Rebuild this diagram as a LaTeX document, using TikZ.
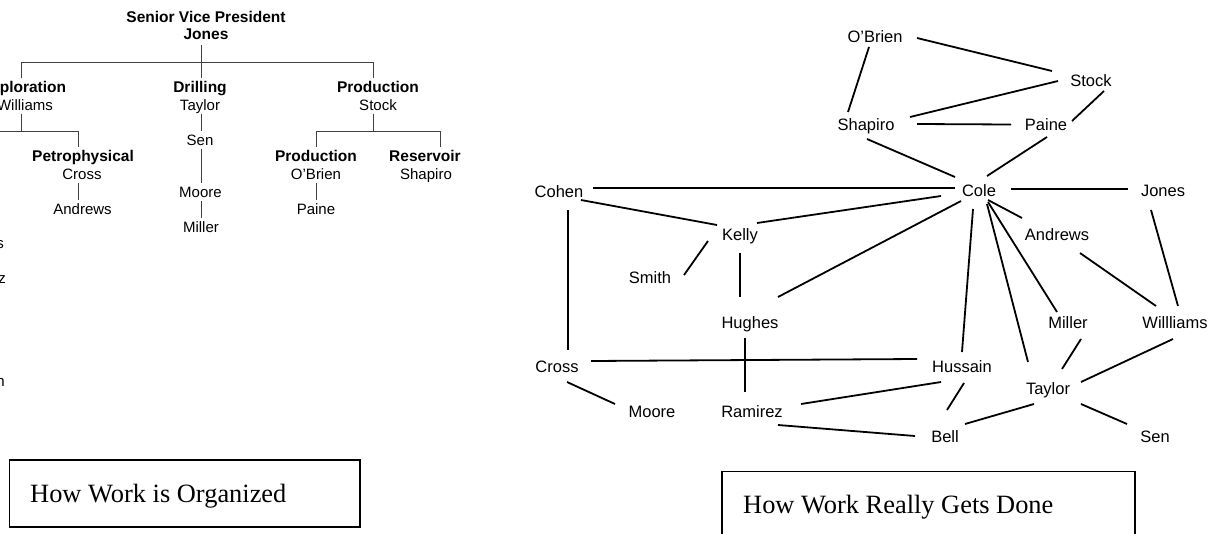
\documentclass[tikz,border=0pt]{standalone}
\usepackage{fontspec}
\setmainfont{Liberation Serif}
\newfontfamily\arialf{Liberation Sans}
\usetikzlibrary{calc}
\begin{document}
\begin{tikzpicture}[x=1pt,y=-1pt,
  org/.style={font=\arialf\fontsize{15}{18}\selectfont, text height=11pt, text depth=0pt, inner sep=3pt},
  orgb/.style={org, font=\arialf\bfseries\fontsize{15.5}{18}\selectfont},
  orgline/.style={black!75, line width=0.9pt},
  person/.style={font=\arialf\fontsize{16.5}{20}\selectfont, text height=12pt, text depth=0pt, inner sep=0pt},
  link/.style={line width=1.8pt, black},
  caption/.style={font=\fontsize{26.4}{30}\selectfont, anchor=base west, inner sep=0pt},
  capbox/.style={line width=1.8pt}]
\useasboundingbox (0,0) rectangle (1212,533);
\clip (0,0) rectangle (1212,533);

% ---------------- org chart ----------------
\node[orgb] (svp) at (206,17) {Senior Vice President};
\node[orgb] (svpname) at (206,34) {Jones};
\node[orgb] (expl) at (23.5,87) {Exploration};
\node[org] (owil) at (25,105) {Williams};
\node[orgb] (drill) at (200,87) {Drilling};
\node[org] (otay) at (200,105) {Taylor};
\node[org] (osen) at (200,140) {Sen};
\node[org] (omoore) at (200.5,192) {Moore};
\node[org] (omiller) at (201,226.5) {Miller};
\node[orgb] (prod) at (378,87) {Production};
\node[org] (ostock) at (378,105) {Stock};
\node[orgb] (petro) at (83,156) {Petrophysical};
\node[org] (ocross) at (82,174) {Cross};
\node[org] (oandrews) at (82.5,209) {Andrews};
\node[orgb] (prod2) at (316,156) {Production};
\node[org] (oobrien) at (316,174) {O’Brien};
\node[org] (opaine) at (316,209) {Paine};
\node[orgb] (res) at (425,156) {Reservoir};
\node[org] (oshapiro) at (426,174) {Shapiro};
\node[org, anchor=east] (ohughes) at (7,242.5) {Hughes};
\node[org, anchor=east] (oramirez) at (9,277.5) {Ramirez};
\node[org, anchor=east] (ohussain) at (8,381) {Hussain};

\coordinate (jbar) at (201,62);
\coordinate (ebar) at (21,62);
\coordinate (pbar) at (373,62);
\draw[orgline] ([yshift=-2pt]svpname.south -| jbar) -- (drill.north -| jbar);
\draw[orgline] (expl.north -| ebar) -- (ebar) -- (pbar) -- (prod.north -| pbar);
\coordinate (wbar) at (21,131);
\coordinate (wleft) at (-40,131);
\coordinate (wright) at (78,131);
\draw[orgline] (owil.south -| wbar) -- (wbar);
\draw[orgline] (wleft) -- (wright) -- (petro.north -| wright);
\draw[orgline] (ocross.south -| wright) -- (oandrews.north -| wright);
\draw[orgline] (otay.south -| jbar) -- (osen.north -| jbar);
\draw[orgline] (osen.south -| jbar) -- (omoore.north -| jbar);
\draw[orgline] (omoore.south -| jbar) -- (omiller.north -| jbar);
\coordinate (sbar) at (373,131);
\coordinate (sleft) at (316,131);
\coordinate (sright) at (440,131);
\draw[orgline] (ostock.south -| sbar) -- (sbar);
\draw[orgline] (prod2.north -| sleft) -- (sleft) -- (sright) -- (res.north -| sright);
\draw[orgline] (oobrien.south -| sleft) -- (opaine.north -| sleft);

% ---------------- network ----------------
\node[person] (obrien) at (875,36) {O’Brien};
\node[person] (stock) at (1091,80) {Stock};
\node[person] (shapiro) at (866,124) {Shapiro};
\node[person] (paine) at (1046,124.5) {Paine};
\node[person] (cole) at (979,190.5) {Cole};
\node[person] (jones) at (1163,190.5) {Jones};
\node[person] (cohen) at (559,191) {Cohen};
\node[person] (kelly) at (740,234) {Kelly};
\node[person] (andrews) at (1057,234.5) {Andrews};
\node[person] (smith) at (650,277.5) {Smith};
\node[person] (hughes) at (750,322) {Hughes};
\node[person] (miller) at (1068,322) {Miller};
\node[person] (williams) at (1175,322) {Willliams};
\node[person] (cross) at (557,366.7) {Cross};
\node[person] (hussain) at (962,366.7) {Hussain};
\node[person] (taylor) at (1048,388) {Taylor};
\node[person] (moore) at (652,411.3) {Moore};
\node[person] (ramirez) at (752,411.3) {Ramirez};
\node[person] (bell) at (945,436.7) {Bell};
\node[person] (sen) at (1155,436.7) {Sen};

\draw[link] ($(obrien)+(42,2)$) -- ($(stock)+(-39,-9)$);
\draw[link] ($(obrien)+(-6,11)$) -- ($(shapiro)+(-18,-12)$);
\draw[link] ($(stock)+(-33,1)$) -- ($(shapiro)+(44,-7)$);
\draw[link] ($(stock)+(13,11)$) -- ($(paine)+(26,-3.5)$);
\draw[link] ($(shapiro)+(51,0)$) -- ($(paine)+(-35,0)$);
\draw[link] ($(shapiro)+(1,15)$) -- ($(cole)+(-24,-13.5)$);
\draw[link] ($(paine)+(1,12.5)$) -- ($(cole)+(8,-14.5)$);
\draw[link] ($(cohen)+(34,-3)$) -- ($(cole)+(-24,-2.5)$);
\draw[link] ($(cole)+(32,-1.5)$) -- ($(jones)+(-35,-1.5)$);
\draw[link] ($(cohen)+(22,9)$) -- ($(kelly)+(-23,-9)$);
\draw[link] ($(kelly)+(17,-11)$) -- ($(cole)+(-38,5.5)$);
\draw[link] ($(cohen)+(9,19)$) -- ($(cross)+(11,-16.7)$);
\draw[link] ($(kelly)+(-32,7)$) -- ($(smith)+(34,-2.5)$);
\draw[link] ($(kelly)+(0,19)$) -- ($(hughes)+(-10,-25)$);
\draw[link] ($(hughes)+(28,-25)$) -- ($(cole)+(-18,10.5)$);
\draw[link] ($(cole)+(9,9.5)$) -- ($(andrews)+(-35,-16.5)$);
\draw[link] ($(cole)+(-6,18.5)$) -- ($(hussain)+(0,-14.7)$);
\draw[link] ($(cole)+(8,13.5)$) -- ($(taylor)+(-20,-26)$);
\draw[link] ($(cole)+(9,11.5)$) -- ($(miller)+(-11,-10)$);
\draw[link] ($(andrews)+(23,18.5)$) -- ($(williams)+(-19,-16)$);
\draw[link] ($(jones)+(-12,19.5)$) -- ($(williams)+(3,-16)$);
\draw[link] ($(hughes)+(-5,16)$) -- ($(ramirez)+(-7,-19)$);
\draw[link] ($(cross)+(34,-5.7)$) -- ($(hussain)+(-45,-7.7)$);
\draw[link] ($(cross)+(10,15.3)$) -- ($(moore)+(-37,-7.3)$);
\draw[link] ($(ramirez)+(49,-7.3)$) -- ($(hussain)+(-21,15.3)$);
\draw[link] ($(ramirez)+(26,13.7)$) -- ($(bell)+(-30,-0.7)$);
\draw[link] ($(hussain)+(2,16.3)$) -- ($(bell)+(2,-26.7)$);
\draw[link] ($(miller)+(13,17)$) -- ($(taylor)+(14,-19)$);
\draw[link] ($(williams)+(-2,17)$) -- ($(taylor)+(33,-6)$);
\draw[link] ($(taylor)+(-14,16)$) -- ($(bell)+(20,-12.7)$);
\draw[link] ($(taylor)+(33,16)$) -- ($(sen)+(-28,-12.7)$);

% ---------------- captions ----------------
\draw[capbox] (9.5,460) rectangle (360,527);
\node[caption] (cap1) at (30,502) {How Work is Organized};
\draw[capbox] (722,545) -- (722,471.5) -- (1135,471.5) -- (1135,545);
\node[caption] (cap2) at (743,513) {How Work Really Gets Done};
\end{tikzpicture}
\end{document}
